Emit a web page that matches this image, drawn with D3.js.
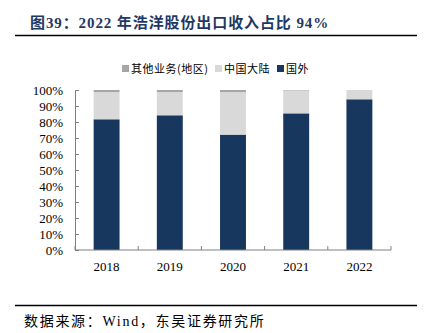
<!DOCTYPE html>
<html>
<head>
<meta charset="utf-8">
<script src="https://cdn.jsdelivr.net/npm/d3@7/dist/d3.min.js"></script>
<style>
  body { margin: 0; background: #fff; }
  svg { display: block; }
</style>
</head>
<body>
<div id="chart-area"></div>
<script>
// data (percent)
const years = ['2018', '2019', '2020', '2021', '2022']
const overseas = [81.7, 84.2, 72.1, 85.4, 94.2]
const mainland = [17.0, 14.5, 26.6, 14.3, 5.8]
const others = [1.3, 1.3, 1.3, 0.3, 0]
const seriesNames = ['其他业务(地区)', '中国大陆', '国外']
const yTicks = [0, 10, 20, 30, 40, 50, 60, 70, 80, 90, 100]

const W = 424
const H = 333
const latin = '"Liberation Serif", "Times New Roman", serif'
const cjk = '"Noto Sans CJK SC", sans-serif'

const $svg = d3.select('#chart-area')
	.append('svg')
	.attr('width', W)
	.attr('height', H)

/* Title */
$svg.append('text')
	.attr('x', 30)
	.attr('y', 28)
	.attr('font-size', 15)
	.attr('font-weight', 'bold')
	.attr('fill', '#1f3864')
	.attr('letter-spacing', 0.9)
	.attr('font-family', `${latin}, ${cjk}`)
	.text('图39：2022 年浩洋股份出口收入占比 94%')

$svg.append('line')
	.attr('x1', 15).attr('x2', 417)
	.attr('y1', 35.5).attr('y2', 35.5)
	.attr('stroke', '#000')
	.attr('stroke-width', 1.5)

/* Scene */
const margin = { top: 90, left: 75 }
const width = 316
const height = 160

const $scene = $svg.append('g')
	.attr('transform', `translate(${margin.left}, ${margin.top})`)

const xScale = d3.scaleBand()
	.domain(years)
	.range([0, width])
	.paddingInner(0.59)
	.paddingOuter(0.295)

const yScale = d3.scaleLinear()
	.domain([0, 100])
	.range([height, 0])

const colors = { '国外': '#17375e', '中国大陆': '#d9d9d9', '其他业务(地区)': '#a6a6a6' }

// stacked from the bottom: overseas, mainland, others
const rows = years.map((y, i) => ({ year: y, '国外': overseas[i], '中国大陆': mainland[i], '其他业务(地区)': others[i] }))
const stack = d3.stack().keys(['国外', '中国大陆', '其他业务(地区)'])(rows)

$scene.append('g')
	.selectAll('g')
	.data(stack)
	.join('g')
	.attr('fill', d => colors[d.key])
	.selectAll('rect')
	.data(d => d)
	.join('rect')
	.attr('x', d => xScale(d.data.year))
	.attr('width', xScale.bandwidth())
	.attr('y', d => yScale(d[1]))
	.attr('height', d => yScale(d[0]) - yScale(d[1]))

/* Axes */
const yAxisCall = d3.axisLeft(yScale)
	.tickValues(yTicks)
	.tickFormat(d => d + '%')
	.tickSizeInner(-4)
	.tickSizeOuter(0)
	.tickPadding(12)

const $yAxis = $scene.append('g').call(yAxisCall)
$yAxis.select('.domain').attr('stroke', '#808080')
$yAxis.selectAll('.tick line').attr('stroke', '#808080')
$yAxis.selectAll('text')
	.attr('font-family', latin)
	.attr('font-size', 13)
	.attr('fill', '#000')

const $xAxis = $scene.append('g')
	.attr('transform', `translate(0, ${height})`)
$xAxis.append('line')
	.attr('x1', 0).attr('x2', width)
	.attr('stroke', '#808080')
const bounds = d3.range(years.length + 1).map(i => i * width / years.length)
$xAxis.selectAll('.bound')
	.data(bounds)
	.join('line')
	.attr('class', 'bound')
	.attr('x1', d => d).attr('x2', d => d)
	.attr('y1', 0).attr('y2', -4)
	.attr('stroke', '#808080')
$xAxis.selectAll('.lbl')
	.data(years)
	.join('text')
	.attr('class', 'lbl')
	.attr('x', d => xScale(d) + xScale.bandwidth() / 2)
	.attr('y', 21)
	.attr('text-anchor', 'middle')
	.attr('font-family', latin)
	.attr('font-size', 13)
	.text(d => d)

/* Legend */
const legendX = [122, 215, 277]
const $legend = $svg.append('g')
seriesNames.forEach((name, i) => {
	const $row = $legend.append('g').attr('transform', `translate(${legendX[i]}, 69)`)
	$row.append('rect')
		.attr('x', 0).attr('y', -4)
		.attr('width', 7).attr('height', 7)
		.attr('fill', colors[name])
	$row.append('text')
		.attr('x', 9)
		.attr('y', 4)
		.attr('font-family', cjk)
		.attr('font-size', 11)
		.attr('letter-spacing', 0.5)
		.text(name)
})

/* Source */
$svg.append('line')
	.attr('x1', 15).attr('x2', 417)
	.attr('y1', 305.5).attr('y2', 305.5)
	.attr('stroke', '#000')
	.attr('stroke-width', 1.5)

$svg.append('text')
	.attr('x', 24)
	.attr('y', 326)
	.attr('font-size', 14)
	.attr('letter-spacing', 1.7)
	.attr('font-family', `${latin}, ${cjk}`)
	.text('数据来源：Wind，东吴证券研究所')
</script>
</body>
</html>
